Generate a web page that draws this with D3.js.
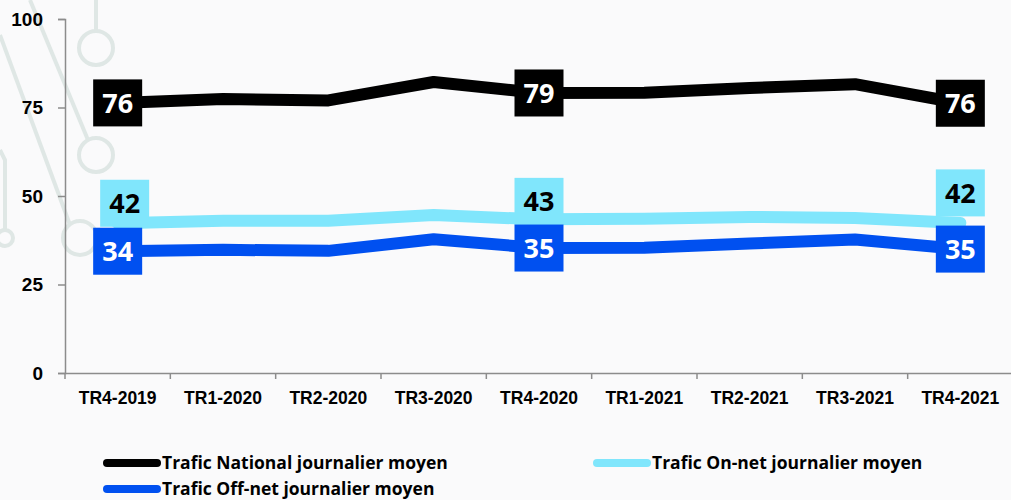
<!DOCTYPE html>
<html>
<head>
<meta charset="utf-8">
<script src="https://cdn.jsdelivr.net/npm/d3@7"></script>
<style>
  body { margin: 0; background: #fafafb; }
  svg { display: block; font-family: "Open Sans", "Noto Sans", sans-serif; }
</style>
</head>
<body>
<div id="chart"></div>
<script>
// Data
var quarters = ["TR4-2019", "TR1-2020", "TR2-2020", "TR3-2020", "TR4-2020", "TR1-2021", "TR2-2021", "TR3-2021", "TR4-2021"];
var national = [76.3, 77.4, 77.0, 82.2, 79.1, 79.2, 80.5, 81.6, 76.2];
var onNet = [42.3, 43.0, 43.0, 44.6, 43.4, 43.6, 44.1, 43.8, 42.4];
var offNet = [34.4, 34.8, 34.5, 37.8, 35.3, 35.4, 36.6, 37.7, 35.0];
var yTicks = [0, 25, 50, 75, 100];
var labelIdx = [0, 4, 8]; // quarters with a value box

var seriesNames = ["Trafic National journalier moyen", "Trafic On-net journalier moyen", "Trafic Off-net journalier moyen"];
var seriesColors = ["#000000", "#80e6fc", "#0050f0"];
var labelText = ["#ffffff", "#000000", "#ffffff"];

var W = 1011, H = 500;
var margin = {top: 19, right: -2, bottom: 127, left: 65};
var width = W - margin.left - margin.right;
var height = H - margin.top - margin.bottom;

var svg = d3.select("#chart").append("svg")
    .attr("width", W)
    .attr("height", H);

// faint decorative background (circuit-like strokes on the left)
var deco = svg.append("g")
    .attr("fill", "none")
    .attr("stroke", "#dfe7e5")
    .attr("stroke-width", 4);
deco.append("path").attr("d", "M96,0 V30");
deco.append("circle").attr("cx", 96).attr("cy", 48).attr("r", 17);
deco.append("path").attr("d", "M30,0 L88,140");
deco.append("circle").attr("cx", 96).attr("cy", 155).attr("r", 17);
deco.append("path").attr("d", "M0,35 L70,225");
deco.append("circle").attr("cx", 80).attr("cy", 238).attr("r", 17);
deco.append("path").attr("d", "M0,150 L5,160 V230");
deco.append("circle").attr("cx", 5).attr("cy", 238).attr("r", 8);

var g = svg.append("g")
    .attr("transform", "translate(" + margin.left + "," + margin.top + ")");

var x = d3.scaleBand()
    .domain(quarters)
    .range([0, width]);

var y = d3.scaleLinear()
    .domain([0, 100])
    .range([height, 0]);

var cx = function(i) { return x(quarters[i]) + x.bandwidth() / 2; };

// Y axis
var yAxis = g.append("g")
    .call(d3.axisLeft(y).tickValues(yTicks).tickSize(7).tickPadding(15));
yAxis.select(".domain").attr("stroke", "#8c8c8c").attr("stroke-width", 1.5);
yAxis.selectAll(".tick line").attr("stroke", "#8c8c8c").attr("stroke-width", 1.5);
yAxis.selectAll("text")
    .attr("font-size", 19)
    .attr("font-weight", "bold")
    .attr("fill", "#000");

// X axis
var xAxis = g.append("g")
    .attr("transform", "translate(0," + height + ")")
    .call(d3.axisBottom(x).tickSize(0).tickPadding(19).tickSizeOuter(0));
xAxis.select(".domain").attr("stroke", "#8c8c8c").attr("stroke-width", 1.5);
xAxis.selectAll("text")
    .attr("font-size", 17.5)
    .attr("font-weight", "bold")
    .attr("fill", "#000");
xAxis.selectAll(".boundary")
    .data(quarters)
    .enter().append("line")
    .attr("x1", function(d) { return x(d); })
    .attr("x2", function(d) { return x(d); })
    .attr("y1", 0)
    .attr("y2", 6)
    .attr("stroke", "#8c8c8c")
    .attr("stroke-width", 1.5);

// Lines
var allSeries = [national, onNet, offNet];
var line = d3.line()
    .x(function(d, i) { return cx(i); })
    .y(function(d) { return y(d); });

g.selectAll(".series")
    .data(allSeries)
    .enter().append("path")
    .attr("class", "series")
    .attr("d", line)
    .attr("fill", "none")
    .attr("stroke", function(d, i) { return seriesColors[i]; })
    .attr("stroke-width", 12)
    .attr("stroke-linejoin", "round")
    .attr("stroke-linecap", "round");

// Value boxes
var boxW = 49, boxH = 47;
var onNetShift = [-20, -18, -30]; // on-net boxes sit above their line
allSeries.forEach(function(values, s) {
    labelIdx.forEach(function(i, k) {
        var px = cx(i) + (s === 1 && i === 0 ? 7 : 0);
        var py = y(values[i]) + (s === 1 ? onNetShift[k] : 0);
        g.append("rect")
            .attr("x", px - boxW / 2)
            .attr("y", py - boxH / 2)
            .attr("width", boxW)
            .attr("height", boxH)
            .attr("fill", seriesColors[s]);
        g.append("text")
            .attr("x", px)
            .attr("y", py)
            .attr("dy", "0.36em")
            .attr("text-anchor", "middle")
            .attr("font-size", 27)
            .attr("font-weight", "bold")
            .attr("fill", labelText[s])
            .text(Math.round(values[i]));
    });
});

// Legend
var legendPos = [[103, 463], [593, 463], [103, 489]];
var legend = svg.selectAll(".legend")
    .data(seriesNames)
    .enter().append("g")
    .attr("class", "legend")
    .attr("transform", function(d, i) { return "translate(" + legendPos[i][0] + "," + legendPos[i][1] + ")"; });
legend.append("line")
    .attr("x1", 4).attr("x2", 54)
    .attr("y1", 0).attr("y2", 0)
    .attr("stroke", function(d, i) { return seriesColors[i]; })
    .attr("stroke-width", 8)
    .attr("stroke-linecap", "round");
legend.append("text")
    .attr("x", 59)
    .attr("dy", "0.35em")
    .attr("font-size", 17.5)
    .attr("font-weight", "bold")
    .text(function(d) { return d; });
</script>
</body>
</html>
